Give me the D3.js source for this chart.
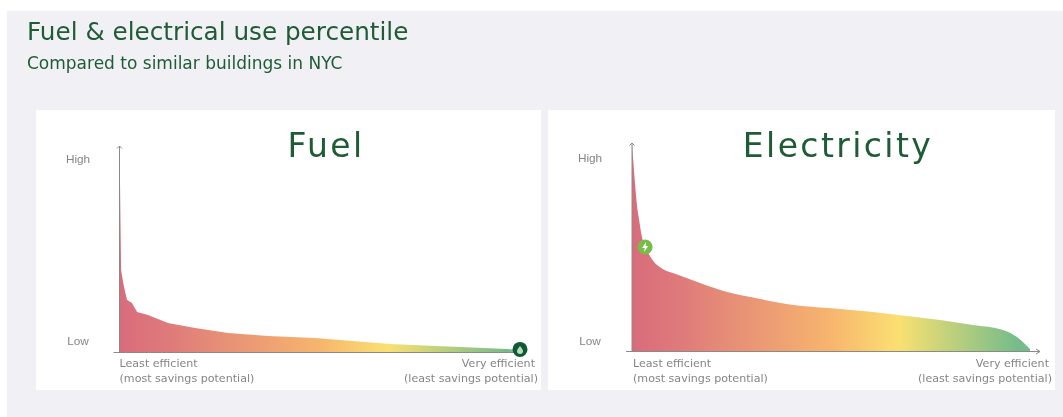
<!DOCTYPE html>
<html>
<head>
<meta charset="utf-8">
<script src="https://cdn.jsdelivr.net/npm/d3@7"></script>
<style>
  html, body { margin: 0; padding: 0; background: #fff; }
  svg { display: block; font-family: "DejaVu Sans", sans-serif; filter: blur(0.35px); }
  .tick text, .note { fill: #858585; font-size: 11.1px; }
  .tick text { font-size: 11.8px; }
  .axis path, .axis-line { stroke: #8a8a8a; stroke-width: 1; fill: none; }
</style>
</head>
<body>
<svg id="chart" width="1063" height="417"></svg>
<script>
// percent of buildings (x) against relative use (y)
var fuelX = [0, 0.15, 0.4, 0.9, 1.4, 1.9, 3.1, 4.4, 7.1, 12.1, 18.9, 27.1, 37.1, 48.8, 67.5, 98.2, 100];
var fuelY = [100, 78.7, 40, 34, 29.3, 25.4, 24, 19.6, 18.2, 14.3, 11.9, 9.4, 8, 7, 4.1, 1.5, 0.7];
var elecX = [0, 0.3, 0.75, 1.3, 1.8, 2.5, 3.3, 4, 5.3, 7.8, 10.3, 17.1, 23.9, 32.2, 40.5, 52.3, 60.6, 69.1, 77.4, 85.7, 93.2, 96.7, 100];
var elecY = [100, 91.8, 80.8, 69.3, 63, 54.9, 50.1, 47.5, 43.5, 39.5, 37.6, 32.9, 28.5, 25.2, 22.3, 20.4, 18.9, 17, 15.1, 12.7, 10.3, 7, 1.2];

var fuelTicks = [94, 5.5];
var elecTicks = [93, 5.2];
var yTickLabels = ['High', 'Low'];
var gradientOffsets = [0, 0.12, 0.5, 0.67, 0.97, 1];
var gradientColors = ['#d96c7c', '#de7a7b', '#f7b56e', '#fae072', '#74bc89', '#74bc89'];

var svg = d3.select('#chart');

svg.append('rect').attr('x', 7).attr('y', 11).attr('width', 1056).attr('height', 406).attr('fill', '#f0f0f5');

svg.append('text').attr('x', 27).attr('y', 40)
  .attr('fill', '#1f5c36').style('font-size', '24.7px').text('Fuel & electrical use percentile');
svg.append('text').attr('x', 27).attr('y', 69)
  .attr('fill', '#1f5c36').style('font-size', '17px').text('Compared to similar buildings in NYC');

function drawPanel(opts) {
  var g = svg.append('g');

  g.append('rect').attr('x', opts.left).attr('y', 110)
    .attr('width', opts.width).attr('height', 280).attr('fill', '#fff');

  var x = d3.scaleLinear().domain([0, 100]).range([opts.x0, opts.x1]);
  var y = d3.scaleLinear().domain([0, 100]).range([opts.y0, opts.y1]);

  var grad = svg.append('defs').append('linearGradient')
    .attr('id', opts.id + '-grad')
    .attr('gradientUnits', 'userSpaceOnUse')
    .attr('x1', x(0)).attr('x2', x(100)).attr('y1', 0).attr('y2', 0);
  grad.selectAll('stop').data(gradientOffsets).enter().append('stop')
    .attr('offset', function(d) { return d; })
    .attr('stop-color', function(d, i) { return gradientColors[i]; });

  var area = d3.area()
    .curve(opts.curve)
    .x(function(d) { return x(d[0]); })
    .y0(y(0))
    .y1(function(d) { return y(d[1]); });

  g.append('path')
    .datum(d3.zip(opts.xs, opts.ys))
    .attr('d', area)
    .attr('fill', 'url(#' + opts.id + '-grad)');

  var yAxis = d3.axisLeft(y)
    .tickValues(opts.ticks)
    .tickSize(0)
    .tickFormat(function(d, i) { return yTickLabels[i]; });
  var yg = g.append('g').attr('class', 'axis')
    .attr('transform', 'translate(' + x(0) + ',0)')
    .call(yAxis);
  yg.select('.domain').remove();
  yg.selectAll('.tick text').attr('text-anchor', 'middle')
    .attr('x', opts.left + 42 - opts.x0);

  // axis lines with small arrow heads
  g.append('path').attr('class', 'axis-line')
    .attr('d', d3.line()([[x(0), y(0)], [x(0), y(100)]]));
  g.append('path').attr('class', 'axis-line')
    .attr('d', d3.line()([[x(0) - 2.5, y(100) + 2.5], [x(0), y(100)], [x(0) + 2.5, y(100) + 2.5]]));
  g.append('path').attr('class', 'axis-line')
    .attr('d', d3.line()([[x(0) - 6, y(0)], [x(100) + opts.axisExtra, y(0)]]));
  if (opts.arrow) {
    g.append('path').attr('class', 'axis-line')
      .attr('d', d3.line()([[x(100) + opts.axisExtra - 4, y(0) - 2.5], [x(100) + opts.axisExtra, y(0)], [x(100) + opts.axisExtra - 4, y(0) + 2.5]]));
  }

  g.append('text').attr('x', opts.titleX).attr('y', 157)
    .attr('text-anchor', 'middle')
    .attr('fill', '#1f5c36')
    .style('font-size', '33px')
    .style('letter-spacing', '2.4px')
    .text(opts.title);

  g.append('text').attr('class', 'note').attr('x', x(0) + opts.noteDx).attr('y', 367).text('Least efficient');
  g.append('text').attr('class', 'note').attr('x', x(0) + opts.noteDx).attr('y', 382).text('(most savings potential)');
  g.append('text').attr('class', 'note').attr('x', opts.left + opts.width - 6).attr('y', 367)
    .attr('text-anchor', 'end').text('Very efficient');
  g.append('text').attr('class', 'note').attr('x', opts.left + opts.width - 3).attr('y', 382)
    .attr('text-anchor', 'end').text('(least savings potential)');

  var m = g.append('g').attr('transform', 'translate(' + x(opts.markX) + ',' + y(opts.markY) + ')');
  m.append('circle').attr('r', opts.markR).attr('fill', opts.markColor);
  m.append('path').attr('d', opts.icon).attr('fill', opts.iconColor);
}

drawPanel({
  id: 'fuel', title: 'Fuel', titleX: 326, left: 36, width: 505,
  x0: 119.5, x1: 520, y0: 352.5, y1: 146,
  xs: fuelX, ys: fuelY, ticks: fuelTicks, curve: d3.curveLinear, noteDx: 0,
  axisExtra: 0, arrow: false,
  markX: 100, markY: 1.5, markR: 7.5, markColor: '#0f5a33', iconColor: '#b9dcc0',
  icon: 'M0,-3.5C2,-1 3,0.5 3,1.5A3,3 0 0 1 -3,1.5C-3,0.5 -2,-1 0,-3.5Z'
});

drawPanel({
  id: 'elec', title: 'Electricity', titleX: 838, left: 548, width: 507,
  x0: 632, x1: 1030, y0: 351.5, y1: 143,
  xs: elecX, ys: elecY, ticks: elecTicks, curve: d3.curveMonotoneX, noteDx: 1,
  axisExtra: 10, arrow: true,
  markX: 3.3, markY: 50.1, markR: 7.5, markColor: '#78bd4a', iconColor: '#fff',
  icon: 'M1,-5L-3,1H-0.5L-1,5L3,-1H0.5Z'
});
</script>
</body>
</html>
